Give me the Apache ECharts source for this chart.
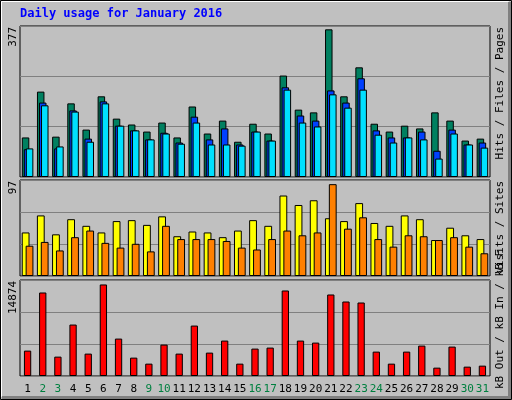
<!DOCTYPE html>
<html><head><meta charset="utf-8">
<script src="https://cdn.jsdelivr.net/npm/echarts@6/dist/echarts.min.js"></script>
<style>html,body{margin:0;padding:0;background:#C0C0C0}#c{width:512px;height:400px}</style>
</head><body><div id="c"></div>
<script>
const days = ['1','2','3','4','5','6','7','8','9','10','11','12','13','14','15','16','17','18','19','20','21','22','23','24','25','26','27','28','29','30','31'];
const weekend = ['2','3','9','10','16','17','23','24','30','31'];
const hits  = [101,218,103,188,121,206,149,134,116,139,101,180,111,144,90,136,111,259,172,165,377,206,280,136,116,131,124,165,144,93,98];
const files = [71,190,73,170,98,193,131,119,96,113,88,154,96,124,83,116,93,229,157,144,221,190,252,119,101,101,116,67,121,83,88];
const pages = [73,183,78,167,90,188,131,119,96,111,85,139,83,83,80,116,93,223,139,129,211,177,223,108,88,101,96,47,111,83,75];
const visits= [46,64,44,60,53,46,58,59,54,63,42,47,46,41,48,59,53,85,75,80,61,58,77,56,53,64,60,38,51,43,39];
const sites = [32,36,27,41,48,35,30,34,26,53,39,39,39,37,30,28,39,48,43,46,97,50,62,39,31,43,42,38,41,31,24];
const kbytes= [4125,13570,3148,8359,3637,14874,6079,2985,2008,5102,3637,8196,3800,5754,2008,4451,4614,13896,5754,5428,13244,12104,11942,3962,2008,3962,4939,1357,4777,1520,1683];
const maxLabels = ['377','97','14874'];

const font = 'DejaVu Sans Mono';
const grids = [
  {left:20,right:22,top:26,height:151},
  {left:20,right:22,top:180,height:96},
  {left:20,right:22,top:280,height:96}
].map(g=>Object.assign(g,{show:true,backgroundColor:'#C0C0C0',borderColor:'#000',borderWidth:1}));
const yMax=[385.5,101.4,15600], yInt=[128.5,33.8,5200];
const xAxis=[0,1,2].map(i=>({type:'category',gridIndex:i,data:days,boundaryGap:true,
  axisLine:{show:false},axisTick:{show:false},splitLine:{show:false},
  axisLabel:i<2?{show:false}:{show:true,margin:8,fontFamily:font,fontSize:11,interval:0,
    formatter:v=>weekend.includes(v)?'{w|'+v+'}':'{n|'+v+'}',
    rich:{w:{color:'#008040',fontFamily:font,fontSize:11},n:{color:'#000',fontFamily:font,fontSize:11}}}}));
const yAxis=[0,1,2].map(i=>({type:'value',gridIndex:i,min:0,max:yMax[i],interval:yInt[i],
  axisLabel:{show:false},axisLine:{show:false},axisTick:{show:false},
  splitLine:{show:true,lineStyle:{color:'#808080',width:1}}}));
const b=(name,data,color,xi,w,gap)=>({name,type:'bar',xAxisIndex:xi,yAxisIndex:xi,data,barWidth:w,barGap:gap,
  itemStyle:{color,borderColor:'#000',borderWidth:1},animation:false});
const series=[
  b('Hits',hits,'#008060',0,7.5,'-73%'),
  b('Files',files,'#0040FF',0,7.5,'-73%'),
  b('Pages',pages,'#00E0FF',0,7.5,'-73%'),
  b('Visits',visits,'#FFFF00',1,7.8,'-50%'),
  b('Sites',sites,'#FF8000',1,7.8,'-50%'),
  b('kB F',kbytes,'#FF0000',2,7.3,'0%')
];
const rt=(x,y,rich,text)=>({type:'text',x,y,rotation:Math.PI/2,
  style:{text,rich,textAlign:'right',textVerticalAlign:'middle',fontFamily:font,fontSize:11}});
const R=c=>({color:c,fontFamily:font,fontSize:11});
const graphic=[
  {type:'rect',shape:{x:0.5,y:0.5,width:511,height:399},style:{fill:null,stroke:'#000',lineWidth:1}},
  {type:'rect',shape:{x:1.5,y:1.5,width:507,height:395},style:{fill:null,stroke:'#fff',lineWidth:1}},
  {type:'polyline',shape:{points:[[509.5,2],[509.5,397.5],[2,397.5]]},style:{stroke:'#808080',lineWidth:3,fill:null}},
  {type:'text',x:20,y:8,style:{text:'Daily usage for January 2016',fill:'#0000FF',fontFamily:font,fontWeight:'bold',fontSize:12}},
  rt(13,27,{a:R('#000')},'{a|'+maxLabels[0]+'}'),
  rt(13,181,{a:R('#000')},'{a|'+maxLabels[1]+'}'),
  rt(13,281,{a:R('#000')},'{a|'+maxLabels[2]+'}'),
  rt(500,27,{p:R('#00C0E0'),s:R('#000'),f:R('#0040FF'),h:R('#008060')},'{h|Hits}{s| / }{f|Files}{s| / }{p|Pages}'),
  rt(500,181,{v:R('#E0E000'),s:R('#000'),t:R('#FF8000')},'{v|Visits}{s| / }{t|Sites}'),
  rt(500,250,{o:R('#00C000'),s:R('#000'),i:R('#0080FF'),k:R('#FF0000')},'{o|kB Out}{s| / }{i|kB In}{s| / }{k|kB F}')
];
const chart=echarts.init(document.getElementById('c'));
chart.setOption({backgroundColor:'#C0C0C0',animation:false,grid:grids,xAxis,yAxis,series,graphic});
</script></body></html>
